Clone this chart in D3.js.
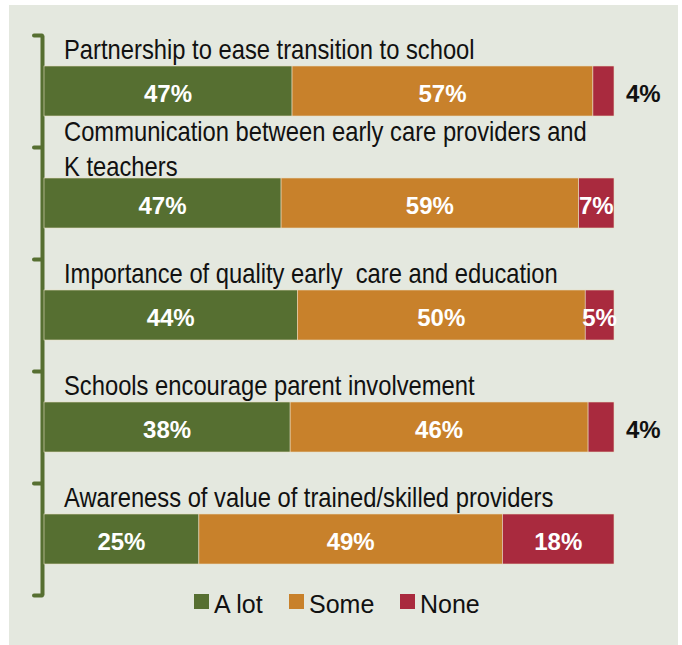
<!DOCTYPE html>
<html>
<head>
<meta charset="utf-8">
<script src="https://cdn.jsdelivr.net/npm/d3@7"></script>
<style>
  html, body { margin: 0; padding: 0; background: #fff; }
  svg { display: block; }
  text.cat { white-space: pre; }
</style>
</head>
<body>
<div id="chart"></div>
<script>
// categories, one entry per bar (label lines as printed)
const categories = [
  "Partnership to ease transition to school",
  "Communication between early care providers and K teachers",
  "Importance of quality early  care and education",
  "Schools encourage parent involvement",
  "Awareness of value of trained/skilled providers"
];
const labelLines = [
  ["Partnership to ease transition to school"],
  ["Communication between early care providers and", "K teachers"],
  ["Importance of quality early  care and education"],
  ["Schools encourage parent involvement"],
  ["Awareness of value of trained/skilled providers"]
];
const series = ["A lot", "Some", "None"];
const aLot = [47, 47, 44, 38, 25];
const some = [57, 59, 50, 46, 49];
const none = [4, 7, 5, 4, 18];
const colors = ["#566f31", "#c8812b", "#a92a3e"];

const width = 682, height = 645;
const bg = "#e4e8df";

const svg = d3.select("#chart").append("svg")
  .attr("width", width)
  .attr("height", height);

svg.append("rect")
  .attr("x", 9).attr("y", 5)
  .attr("width", 669).attr("height", 640)
  .attr("fill", bg);

// rows -> normalized stacks (bars fill full width)
const rows = categories.map((c, i) => {
  const vals = [aLot[i], some[i], none[i]];
  const total = d3.sum(vals);
  let acc = 0;
  const segs = vals.map((v, j) => {
    const s = { key: series[j], value: v, x0: acc / total, x1: (acc + v) / total, color: colors[j] };
    acc += v;
    return s;
  });
  return { cat: c, lines: labelLines[i], segs };
});

const yScale = d3.scaleBand()
  .domain(categories)
  .range([35, 595])
  .paddingInner(0);

const xScale = d3.scaleLinear()
  .domain([0, 1])
  .range([44, 614]);

const barOffset = 31, barH = 50;

// axis bracket on the left
const tickScale = d3.scaleLinear().domain([0, categories.length]).range([35, 595]);
const axis = svg.append("g")
  .attr("transform", "translate(42,0)")
  .call(d3.axisLeft(tickScale)
    .tickValues(d3.range(categories.length + 1))
    .tickFormat("")
    .tickSize(8)
    .tickSizeOuter(0));
axis.select(".domain").attr("stroke", colors[0]).attr("stroke-width", 4);
axis.selectAll(".tick line").attr("stroke", colors[0]).attr("stroke-width", 4).attr("stroke-linecap", "round");

const groups = svg.append("g").selectAll("g.row")
  .data(rows)
  .join("g")
  .attr("class", "row")
  .attr("transform", d => `translate(0,${yScale(d.cat) + barOffset})`);

// category labels (condensed look)
groups.each(function (d) {
  const n = d.lines.length;
  const last = n > 1 ? -2 : -7;
  d3.select(this).selectAll("text.cat")
    .data(d.lines)
    .join("text")
    .attr("class", "cat")
    .attr("xml:space", "preserve")
    .attr("transform", (t, k) => `translate(64,${last - (n - 1 - k) * 35}) scale(0.88,1)`)
    .attr("font-family", "'Liberation Sans', Arial, sans-serif")
    .attr("font-size", 27)
    .attr("fill", "#111")
    .text(t => t);
});

// stacked segments
groups.selectAll("rect.seg")
  .data(d => d.segs)
  .join("rect")
  .attr("class", "seg")
  .attr("x", s => xScale(s.x0))
  .attr("width", s => xScale(s.x1) - xScale(s.x0))
  .attr("y", 0)
  .attr("height", barH)
  .attr("fill", s => s.color)
  .attr("stroke", "#e8dcc4")
  .attr("stroke-width", 0.6);

// value labels
groups.selectAll("text.val")
  .data(d => d.segs)
  .join("text")
  .attr("class", "val")
  .each(function (s) {
    const w = xScale(s.x1) - xScale(s.x0);
    const outside = w < 27;
    d3.select(this)
      .attr("x", outside ? xScale(s.x1) + 12 : (xScale(s.x0) + xScale(s.x1)) / 2)
      .attr("text-anchor", outside ? "start" : "middle")
      .attr("fill", outside ? "#111" : "#fff");
  })
  .attr("y", 36)
  .attr("font-family", "'Liberation Sans', Arial, sans-serif")
  .attr("font-weight", "bold")
  .attr("font-size", 24)
  .text(s => s.value + "%");

// legend
const legendX = [194, 289, 400];
const legend = svg.append("g").selectAll("g")
  .data(series)
  .join("g")
  .attr("transform", (d, i) => `translate(${legendX[i]},594)`);
legend.append("rect")
  .attr("width", 15).attr("height", 15)
  .attr("fill", (d, i) => colors[i]);
legend.append("text")
  .attr("x", 20).attr("y", 19)
  .attr("font-family", "'Liberation Sans', Arial, sans-serif")
  .attr("font-size", 25)
  .attr("fill", "#111")
  .text(d => d);
</script>
</body>
</html>
